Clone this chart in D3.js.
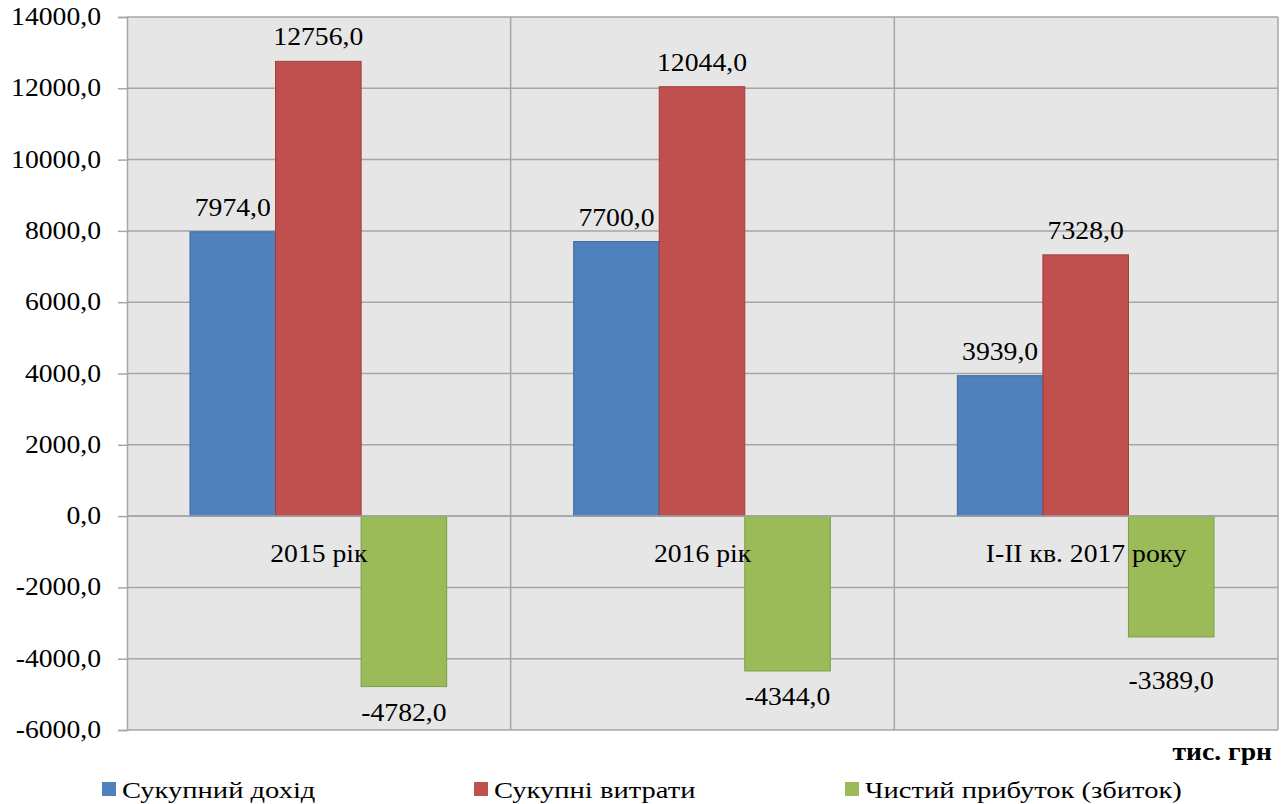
<!DOCTYPE html>
<html><head><meta charset="utf-8">
<script src="https://cdn.jsdelivr.net/npm/d3@7"></script>
<style>body{margin:0;background:#fff}svg{display:block}</style>
</head><body><svg id="c" width="1286" height="804"></svg>
<script>
const categories = ["2015 рік", "2016 рік", "I-II кв. 2017 року"];
const seriesNames = ["Сукупний дохід", "Сукупні витрати", "Чистий прибуток (збиток)"];
const income = [7974.0, 7700.0, 3939.0];
const expenses = [12756.0, 12044.0, 7328.0];
const profit = [-4782.0, -4344.0, -3389.0];
const yTicks = [14000, 12000, 10000, 8000, 6000, 4000, 2000, 0, -2000, -4000, -6000];
const colors = ["#4f81bd", "#c0504d", "#9bbb59"];
const strokes = ["#3f6a9e", "#9e3f3c", "#7f9a48"];
const unitLabel = "тис. грн";

const series = [income, expenses, profit];
// extra vertical nudge of the negative value labels (styling, per category)
const negLabelNudge = [0, 0, 18];
const svg = d3.select("#c");
const L = 127, R = 1278, T = 17, B = 730;
const SX = 1.13, FS = "24.5px", FF = '"Liberation Serif", "Times New Roman", serif';
const fmt = v => v.toFixed(1).replace(".", ",");

function txt(sel, xf, yf, anchor, sx) {
  return sel.attr("transform", (d, i) => `translate(${xf(d, i)},${yf(d, i)}) scale(${sx || SX},1)`)
    .attr("text-anchor", anchor)
    .style("font-family", FF).style("font-size", FS).style("fill", "#000");
}

const x = d3.scaleBand().domain(categories).range([L, R]).paddingInner(0).paddingOuter(0);
const y = d3.scaleLinear().domain([-6000, 14000]).range([B, T]);
const xs = d3.scaleBand().domain(d3.range(3)).range([63, x.bandwidth() - 64]);

svg.append("rect").attr("x", L).attr("y", T).attr("width", R - L).attr("height", B - T)
  .attr("fill", "#e6e6e6");

svg.append("g").selectAll("line").data(yTicks).join("line")
  .attr("x1", L).attr("x2", R).attr("y1", d => y(d)).attr("y2", d => y(d))
  .attr("stroke", "#a6a6a6").attr("stroke-width", 1.5);
svg.append("g").selectAll("line").data(categories.slice(1)).join("line")
  .attr("x1", d => x(d)).attr("x2", d => x(d)).attr("y1", T).attr("y2", B)
  .attr("stroke", "#a6a6a6").attr("stroke-width", 1.5);
svg.append("line").attr("x1", R).attr("x2", R).attr("y1", T).attr("y2", B)
  .attr("stroke", "#a6a6a6").attr("stroke-width", 1.5);

const yAxis = d3.axisLeft(y).tickValues(yTicks).tickFormat("").tickSize(9);
const ga = svg.append("g").attr("transform", `translate(${L},0)`).call(yAxis);
ga.select(".domain").attr("stroke", "#a6a6a6").attr("stroke-width", 1.5);
ga.selectAll(".tick line").attr("stroke", "#a6a6a6").attr("stroke-width", 1.5);
txt(svg.append("g").selectAll("text").data(yTicks).join("text"),
  () => 101, d => y(d) + 8, "end").text(fmt);

series.forEach((vals, si) => {
  svg.append("g").selectAll("rect").data(vals).join("rect")
    .attr("x", (d, i) => x(categories[i]) + xs(si))
    .attr("width", xs.bandwidth())
    .attr("y", d => y(Math.max(0, d)))
    .attr("height", d => Math.abs(y(d) - y(0)))
    .attr("fill", colors[si]).attr("stroke", strokes[si]).attr("stroke-width", 1);
});
svg.append("line").attr("x1", L).attr("x2", R).attr("y1", y(0)).attr("y2", y(0))
  .attr("stroke", "#a6a6a6").attr("stroke-width", 1.5);

series.forEach((vals, si) => {
  txt(svg.append("g").selectAll("text").data(vals).join("text"),
    (d, i) => x(categories[i]) + xs(si) + xs.bandwidth() / 2,
    (d, i) => d >= 0 ? y(d) - 16 : y(d) + 34 + negLabelNudge[i], "middle").text(fmt);
});

txt(svg.append("g").selectAll("text").data(categories).join("text"),
  d => x(d) + x.bandwidth() / 2, () => y(0) + 46, "middle").text(d => d);

txt(svg.append("text").datum(unitLabel), () => 1272, () => 760, "end")
  .style("font-weight", "bold").text(d => d);

const legX = [102, 474, 845];
const lg = svg.append("g").selectAll("g").data(seriesNames).join("g")
  .attr("transform", (d, i) => `translate(${legX[i]},782)`);
lg.append("rect").attr("x", 0).attr("y", 0).attr("width", 14).attr("height", 14)
  .attr("fill", (d, i) => colors[i]);
txt(lg.append("text"), () => 20, () => 15.5, "start", 1.19).style("font-size", "24px").text(d => d);
</script></body></html>
